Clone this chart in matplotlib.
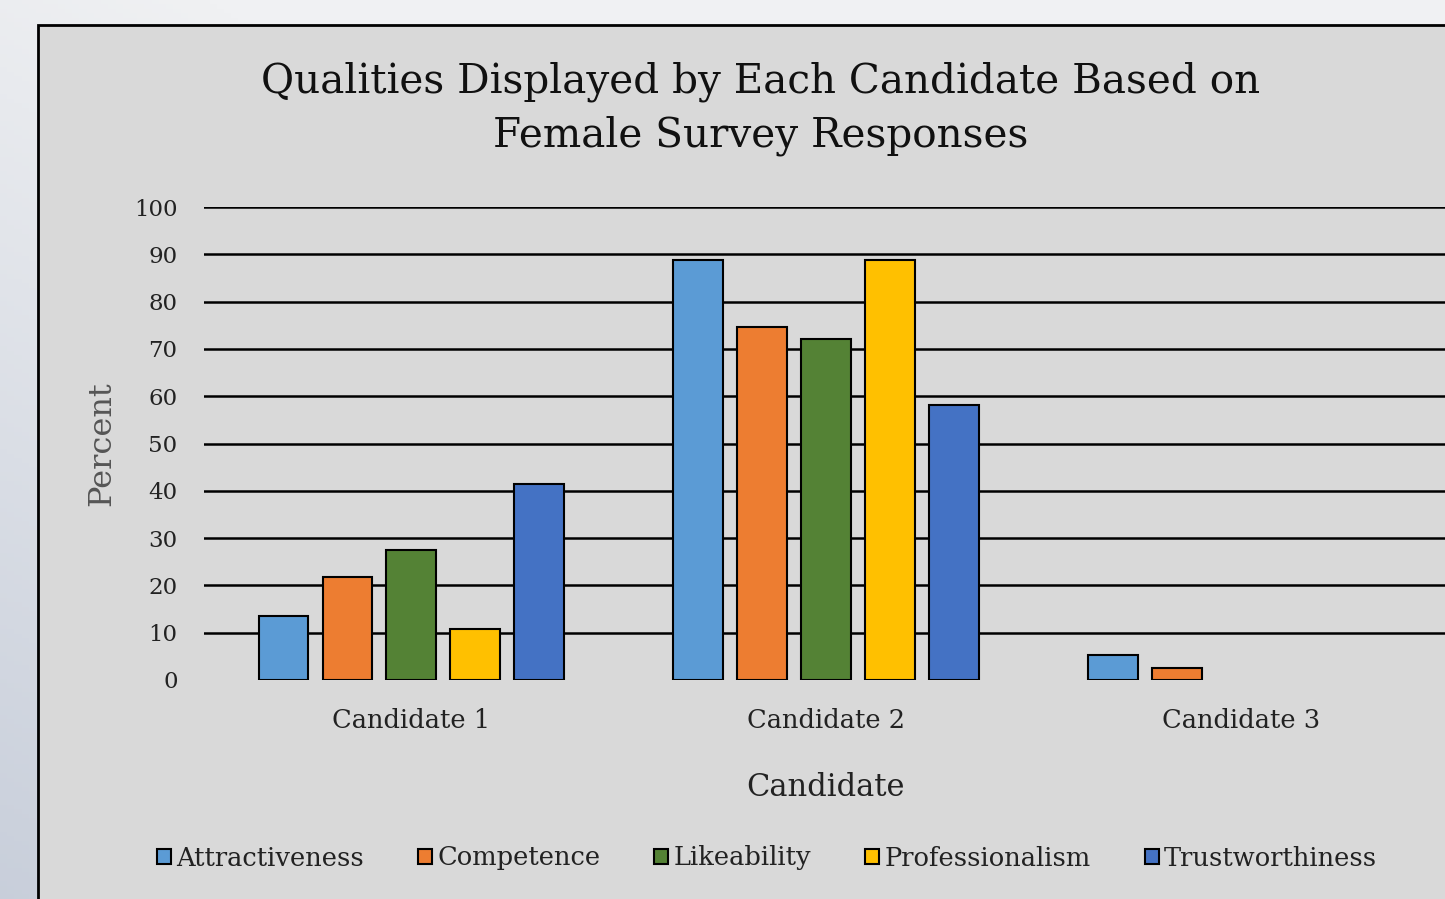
import numpy as np
import matplotlib
matplotlib.use("Agg")
import matplotlib.pyplot as plt
from matplotlib.patches import Rectangle

categories = ["Candidate 1", "Candidate 2", "Candidate 3"]
series = ["Attractiveness", "Competence", "Likeability", "Professionalism", "Trustworthiness"]
attractiveness = [13.5, 88.8, 5.3]
competence = [21.8, 74.7, 2.5]
likeability = [27.5, 72.0, 0]
professionalism = [10.7, 88.8, 0]
trustworthiness = [41.4, 58.1, 0]
values = [attractiveness, competence, likeability, professionalism, trustworthiness]
colors = ["#5B9BD5", "#ED7D31", "#548235", "#FFC000", "#4472C4"]
yticks = list(range(0, 101, 10))

W, H = 1445, 899
fig = plt.figure(figsize=(W / 100, H / 100), dpi=100)
plt.rcParams['font.family'] = ['DejaVu Serif']

# background gradient (light at top, bluish at bottom-left)
bg = fig.add_axes([0, 0, 1, 1], zorder=-10)
yy, xx = np.mgrid[0:1:200j, 0:1:200j]  # yy: 0 top -> 1 bottom
t = np.clip((1 - xx) * 0.7 + yy * 0.8 - 0.6, 0, 1)
c1 = np.array([0xF0, 0xF1, 0xF3]) / 255
c2 = np.array([0xC4, 0xCB, 0xD8]) / 255
img = c1[None, None, :] * (1 - t[..., None]) + c2[None, None, :] * t[..., None]
bg.imshow(img, extent=[0, 1, 0, 1], aspect='auto', origin='upper')
bg.set_xlim(0, 1); bg.set_ylim(0, 1)
bg.axis('off')
bg.add_patch(Rectangle((38 / W, -0.1), 2, 1 - 25 / H + 0.1, transform=bg.transAxes,
                       facecolor="#D9D9D9", edgecolor="black", linewidth=2))

ax = fig.add_axes([204 / W, (H - 680) / H, (1448 - 204) / W, 473 / H])
ax.set_facecolor("none")
ax.set_ylim(0, 100)
ax.set_xlim(-0.5, 2.5)
x = np.arange(len(categories))
slot = 0.154
bw = 0.12
for i, (name, vals, col) in enumerate(zip(series, values, colors)):
    pos = x + (i - 2) * slot
    v = np.array(vals, dtype=float)
    mask = v > 0
    ax.bar(pos[mask], v[mask], width=bw, color=col, edgecolor="black", linewidth=1.5,
           label=name, zorder=3)

ax.set_yticks(yticks)
ax.set_yticklabels([str(v) for v in yticks], fontsize=16.5, color="#222222")
ax.grid(axis='y', color='black', linewidth=1.8, zorder=0)
ax.set_axisbelow(True)
for s in ax.spines.values():
    s.set_visible(False)
ax.tick_params(axis='both', length=0)
ax.tick_params(axis='y', pad=19)
ax.set_xticks(x)
ax.set_xticklabels(categories, fontsize=18.5, color="#222222")
ax.tick_params(axis='x', pad=20)
ax.set_xlabel("Candidate", fontsize=22, labelpad=28, color="#222222")
ax.set_ylabel("Percent", fontsize=23, labelpad=12, color="#555555")
ax.yaxis.get_gridlines()[0].set_visible(False)

fig.text(761 / W, 1 - 109 / H, "Qualities Displayed by Each Candidate Based on\nFemale Survey Responses",
         ha='center', va='center', fontsize=29.2, linespacing=1.42, color="#111111")

handles, labels = ax.get_legend_handles_labels()
leg = fig.legend(handles, labels, loc='center', bbox_to_anchor=(767 / W, 1 - 858 / H), ncol=5,
                 frameon=False, fontsize=18.5, handlelength=0.55, handleheight=0.55,
                 handletextpad=0.2, columnspacing=2.1)
for txt in leg.get_texts():
    txt.set_color("#222222")

fig.savefig("out.png", dpi=100)
